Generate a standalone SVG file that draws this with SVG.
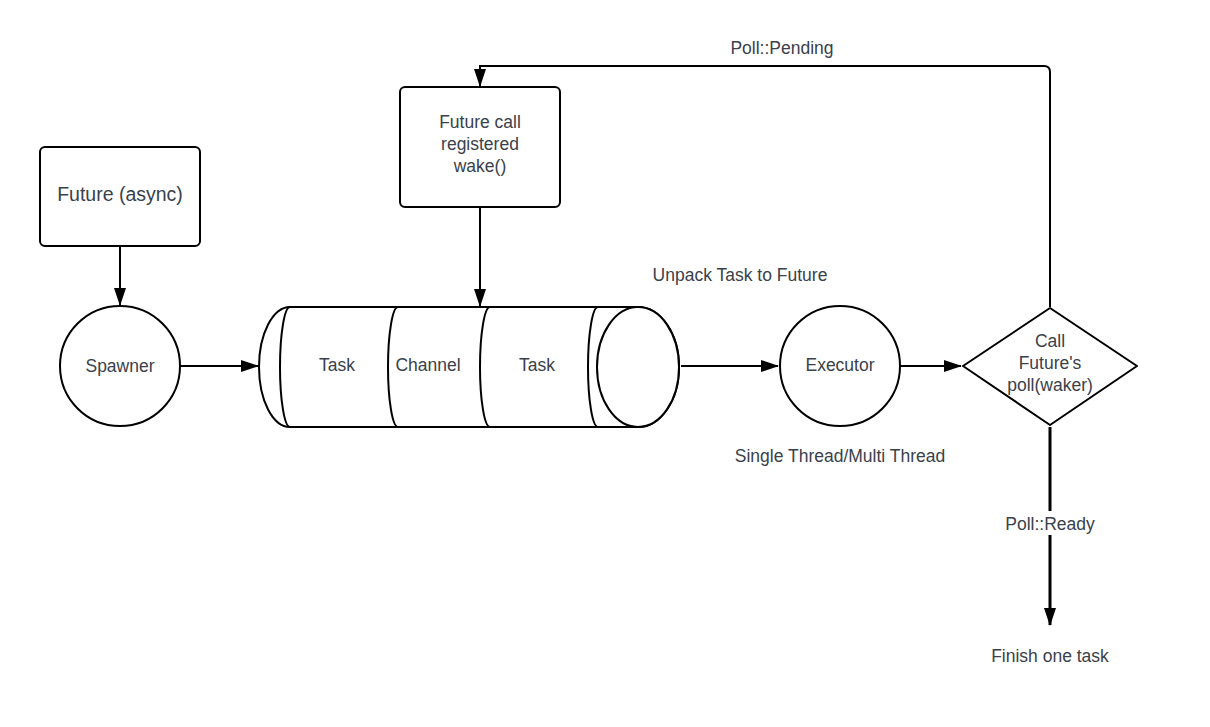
<svg xmlns="http://www.w3.org/2000/svg" width="1210" height="727" viewBox="0 0 1210 727">
<defs>
<marker id="ah" markerWidth="18" markerHeight="12" refX="17" refY="6" orient="auto" markerUnits="userSpaceOnUse">
<path d="M0,0 L18,6 L0,12 Z" fill="#000"/>
</marker>
<style>
.shape{fill:#fff;stroke:#000;stroke-width:2}
.line{fill:none;stroke:#000;stroke-width:2}
.t{font-family:"Liberation Sans",Arial,sans-serif;font-size:17.5px;fill:#3a414a;text-anchor:middle}
</style>
</defs>
<rect width="1210" height="727" fill="#fff"/>
<g id="connectors">
<path class="line" d="M120,247 L120,305" marker-end="url(#ah)"/>
<path class="line" d="M181,366 L258,366" marker-end="url(#ah)"/>
<path class="line" d="M480,208 L480,306" marker-end="url(#ah)"/>
<path class="line" d="M681,366 L778,366" marker-end="url(#ah)"/>
<path class="line" d="M901,366 L961,366" marker-end="url(#ah)"/>
<path class="line" d="M1050,307 L1050,72 Q1050,66 1044,66 L480,66 L480,86" marker-end="url(#ah)"/>
<path class="line" style="stroke-width:3" d="M1050,427 L1050,625" marker-end="url(#ah)"/>
<rect x="1001" y="511" width="98" height="24" fill="#fff"/>
<text class="t" x="1050" y="530">Poll::Ready</text>
<text class="t" x="782" y="54">Poll::Pending</text>
<text class="t" x="740" y="281">Unpack Task to Future</text>
<text class="t" x="840" y="462">Single Thread/Multi Thread</text>
<text class="t" x="1050" y="662">Finish one task</text>
</g>
<g id="future-async">
<rect class="shape" x="40" y="147" width="160" height="99" rx="5"/>
<text class="t" x="120" y="201" style="font-size:19.5px">Future (async)</text>
</g>
<g id="spawner">
<circle class="shape" cx="120" cy="366" r="60"/>
<text class="t" x="120" y="372">Spawner</text>
</g>
<g id="future-call">
<rect class="shape" x="400" y="87" width="160" height="120" rx="5"/>
<text class="t" x="480" y="128">Future call</text>
<text class="t" x="480" y="150">registered</text>
<text class="t" x="480" y="172">wake()</text>
</g>
<g id="channel">
<path class="shape" d="M290,307 L638,307 A41,60 0 0 1 638,427 L290,427 A31,60 0 0 1 290,307 Z"/>
<path class="line" d="M290,307 A10,60 0 0 0 290,427"/>
<path class="line" d="M398,307 A10,60 0 0 0 398,427"/>
<path class="line" d="M490,307 A10,60 0 0 0 490,427"/>
<path class="line" d="M598,307 A10,60 0 0 0 598,427"/>
<ellipse class="shape" cx="638" cy="367" rx="41" ry="60"/>
<text class="t" x="337" y="371">Task</text>
<text class="t" x="428" y="371">Channel</text>
<text class="t" x="537" y="371">Task</text>
</g>
<g id="executor">
<circle class="shape" cx="840" cy="366" r="60"/>
<text class="t" x="840" y="371">Executor</text>
</g>
<g id="poll-decision">
<path class="shape" stroke-linejoin="round" d="M1050,308 L1137,366 L1050,425 L963,366 Z"/>
<text class="t" x="1050" y="347">Call</text>
<text class="t" x="1050" y="369">Future's</text>
<text class="t" x="1050" y="391">poll(waker)</text>
</g>
</svg>
